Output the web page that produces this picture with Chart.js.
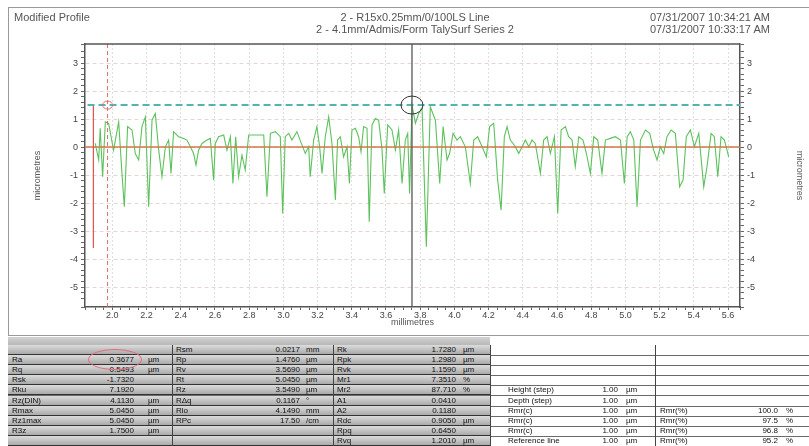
<!DOCTYPE html>
<html>
<head>
<meta charset="utf-8">
<script src="https://cdn.jsdelivr.net/npm/chart.js@4.4.0/dist/chart.umd.min.js"></script>
<style>
  body { margin: 0; background: #fff; font-family: "Liberation Sans", Arial, sans-serif; }
  #wrap { position: relative; width: 809px; height: 446px; overflow: hidden; }
  #chartBox { position: absolute; left: 0; top: 0; width: 809px; height: 336px; }
  #frame { position: absolute; left: 8px; top: 7px; width: 830px; height: 329px; border: 1px solid #9a9a9a; box-sizing: border-box; }
  .hdr { position: absolute; font-size: 11px; color: #555; white-space: nowrap; }
  #table { position: absolute; left: 8px; top: 337px; width: 801px; height: 109px; background: #fff; }
  .strip { position: absolute; left: 0; top: 0; width: 482px; height: 8px; background: linear-gradient(#d2d2d2, #b8b8b8); border-bottom: 1px solid #555; }
  .row { position: absolute; left: 0; width: 801px; height: 10px; border-bottom: 1px solid #6a6a6a; }
  .gray { position: absolute; left: 0; top: 0; width: 482px; height: 100%; background: linear-gradient(#dcdcdc, #aaaaaa); border-bottom: 1px solid #333; box-sizing: border-box; }
  .cell { position: absolute; top: 0; font-size: 8px; line-height: 10px; color: #111; white-space: nowrap; }
  .vsep { position: absolute; top: 8px; width: 1px; height: 101px; background: #444; }
  #ring { position: absolute; left: 88px; top: 349px; width: 54px; height: 21px; border: 1px solid #e07080; border-radius: 50%; box-sizing: border-box; }
</style>
</head>
<body>
<div id="wrap">
  <div id="chartBox"><canvas id="profile-chart"></canvas></div>
  <div id="frame"></div>
  <div class="hdr" style="left:14px;top:11px;">Modified Profile</div>
  <div class="hdr" style="left:0;width:830px;text-align:center;top:11px;">2 - R15x0.25mm/0/100LS Line</div>
  <div class="hdr" style="left:0;width:830px;text-align:center;top:23px;">2 - 4.1mm/Admis/Form TalySurf Series 2</div>
  <div class="hdr" style="left:650px;top:11px;">07/31/2007 10:34:21 AM</div>
  <div class="hdr" style="left:650px;top:23px;">07/31/2007 10:33:17 AM</div>
  <div id="table"></div>
  <div id="ring"></div>
</div>
<script>
// profile (mm / micrometres)
const profileX = [
  1.900, 1.920, 1.929, 1.943, 1.959, 1.978, 2.007, 2.037, 2.056, 2.070,
  2.089, 2.115, 2.134, 2.154, 2.173, 2.193, 2.212, 2.232, 2.251, 2.271,
  2.290, 2.310, 2.329, 2.343, 2.358, 2.387, 2.417, 2.436, 2.456, 2.475,
  2.489, 2.504, 2.524, 2.553, 2.573, 2.592, 2.602, 2.621, 2.651, 2.670,
  2.690, 2.705, 2.721, 2.738, 2.758, 2.777, 2.797, 2.826, 2.855, 2.885,
  2.904, 2.924, 2.953, 2.982, 2.996, 3.011, 3.031, 3.050, 3.079, 3.109,
  3.128, 3.148, 3.157, 3.177, 3.196, 3.212, 3.226, 3.245, 3.265, 3.284,
  3.304, 3.317, 3.333, 3.352, 3.372, 3.386, 3.401, 3.421, 3.440, 3.454,
  3.469, 3.489, 3.502, 3.518, 3.538, 3.557, 3.577, 3.590, 3.610, 3.635,
  3.655, 3.674, 3.694, 3.713, 3.727, 3.738, 3.752,
  3.772, 3.791, 3.811, 3.836, 3.859, 3.889, 3.914, 3.934, 3.957, 3.972,
  3.992, 4.015, 4.035, 4.064, 4.093, 4.113, 4.136, 4.162, 4.187, 4.206,
  4.230, 4.253, 4.273, 4.292, 4.308, 4.327, 4.357, 4.376, 4.396, 4.415,
  4.435, 4.454, 4.473, 4.503, 4.522, 4.542, 4.561, 4.585, 4.604, 4.624,
  4.649, 4.668, 4.688, 4.707, 4.727, 4.752, 4.772, 4.795, 4.815, 4.838,
  4.863, 4.883, 4.912, 4.941, 4.971, 4.994, 5.010, 5.029, 5.049, 5.068,
  5.088, 5.117, 5.142, 5.165, 5.185, 5.204, 5.224, 5.243, 5.267, 5.292,
  5.317, 5.337, 5.356, 5.380, 5.403, 5.429, 5.458, 5.477, 5.501, 5.520,
  5.540, 5.559, 5.579, 5.604
];
const profileY = [
  0.13, -0.46, 0.67, -1.06, 0.90, 0.85, -0.11, 0.90, -0.94, -2.13,
  0.73, 0.61, -0.23, -0.46, 0.73, 1.08, -2.13, 0.96, 1.20, -0.11,
  -1.06, 0.01, 0.25, -0.94, 0.55, 0.37, 0.31, 0.25, 0.01, -0.23,
  -0.64, -0.11, 0.13, 0.25, 0.31, -1.18, 0.13, 0.37, 0.43, -0.11,
  0.37, -1.30, 0.37, -1.06, -0.29, -0.82, 0.43, 0.43, 0.43, 0.43,
  -1.77, 0.49, 0.55, 0.37, -2.37, 0.37, 0.49, 0.25, 0.55, 0.07,
  -0.23, 0.01, -1.06, 0.25, 0.73, 0.01, -0.94, 0.37, 1.08, 0.13,
  -1.89, 0.25, 0.37, -0.35, 0.01, -1.30, 0.61, 0.67, 0.37, -0.17,
  0.73, 0.67, -2.67, 0.79, 1.02, 0.96, -0.11, -1.66, 0.79, 0.61,
  -0.11, 0.61, -1.30, 0.25, 0.49, -1.66, 1.50,
  0.85, 1.20, 1.40, -3.56, 1.44, 0.96, -1.30, 0.73, -0.46, -0.23,
  0.49, 0.25, 0.37, 0.01, -1.30, 0.25, 0.37, 0.01, -0.35, 0.73,
  0.85, -1.18, -2.25, 0.37, 0.73, 0.25, 0.01, -0.23, 0.01, 0.25,
  0.01, 0.25, 0.13, -0.94, 0.25, 0.37, -0.23, 0.37, -2.37, 0.61,
  0.73, 0.37, 0.25, -0.70, 0.37, 0.25, -0.23, -0.94, 0.37, 0.25,
  -0.94, 0.25, 0.31, 0.37, 0.25, -1.30, 0.37, 0.55, 0.25, -2.13,
  0.25, 0.61, 0.49, -0.11, -0.46, 0.01, -0.23, 0.37, 0.61, 0.49,
  -1.42, -1.18, 0.37, 0.61, 0.01, 0.49, -1.42, -0.70, 0.49, 0.37,
  -1.06, 0.37, 0.25, -0.35
];

// axis ranges
const xMin = 1.84, xMax = 5.67;
const yMin = -5.71, yMax = 3.68;

// reference lines
const meanLevel = 0;
const peakLevel = 1.5;          // cyan dashed line
const cursorX = 3.752;          // black cursor line
const cutoffX = 1.972;          // red dashed line
const startX = 1.889;           // red solid line
const startRange = [1.5, -3.6];
const peakMark = [3.752, 1.5];
const startMark = [1.972, 1.5];

// results table (left to right: name, value, unit ...)
const tableRows = [
  ['', '', '', 'Rsm', '0.0217', 'mm', 'Rk', '1.7280', 'µm'],
  ['Ra', '0.3677', 'µm', 'Rp', '1.4760', 'µm', 'Rpk', '1.2980', 'µm'],
  ['Rq', '0.5493', 'µm', 'Rv', '3.5690', 'µm', 'Rvk', '1.1590', 'µm'],
  ['Rsk', '-1.7320', '', 'Rt', '5.0450', 'µm', 'Mr1', '7.3510', '%'],
  ['Rku', '7.1920', '', 'Rz', '3.5490', 'µm', 'Mr2', '87.710', '%', 'Height (step)', '1.00', 'µm'],
  ['Rz(DIN)', '4.1130', 'µm', 'RΔq', '0.1167', '°', 'A1', '0.0410', '', 'Depth (step)', '1.00', 'µm'],
  ['Rmax', '5.0450', 'µm', 'Rlo', '4.1490', 'mm', 'A2', '0.1180', '', 'Rmr(c)', '1.00', 'µm', 'Rmr(%)', '100.0', '%'],
  ['Rz1max', '5.0450', 'µm', 'RPc', '17.50', '/cm', 'Rdc', '0.9050', 'µm', 'Rmr(c)', '1.00', 'µm', 'Rmr(%)', '97.5', '%'],
  ['R3z', '1.7500', 'µm', '', '', '', 'Rpq', '0.6450', '', 'Rmr(c)', '1.00', 'µm', 'Rmr(%)', '96.8', '%'],
  ['', '', '', '', '', '', 'Rvq', '1.2010', 'µm', 'Reference line', '1.00', 'µm', 'Rmr(%)', '95.2', '%']
];
const tableCols = [
  [4, 'l'], [126, 'r'], [140, 'l'], [168, 'l'], [292, 'r'], [298, 'l'],
  [329, 'l'], [448, 'r'], [455, 'l'], [500, 'l'], [610, 'r'], [618, 'l'],
  [652, 'l'], [770, 'r'], [778, 'l']
];

// build the table
const table = document.getElementById('table');
table.innerHTML = '<div class="strip"></div>';
tableRows.forEach((r, i) => {
  let html = '<div class="gray"></div>';
  r.forEach((t, j) => {
    if (!t) return;
    const [cx, al] = tableCols[j];
    const pos = al === 'r' ? 'right:' + (801 - cx) + 'px' : 'left:' + cx + 'px';
    html += '<span class="cell" style="' + pos + '">' + t + '</span>';
  });
  const row = document.createElement('div');
  row.className = 'row';
  row.style.top = (8 + i * 10.1) + 'px';
  row.innerHTML = html;
  table.appendChild(row);
});
[164, 325, 482, 647].forEach(v => {
  const d = document.createElement('div');
  d.className = 'vsep';
  d.style.left = v + 'px';
  table.appendChild(d);
});

const isMajorX = v => Math.abs(v * 5 - Math.round(v * 5)) < 1e-6;
const isMajorY = v => Math.abs(v - Math.round(v)) < 1e-6;

const marksPlugin = {
  id: 'marks',
  afterDatasetsDraw(chart) {
    const { ctx, chartArea: a, scales: { x, y } } = chart;
    ctx.save();
    ctx.strokeStyle = '#555';
    ctx.lineWidth = 1.5;
    ctx.beginPath();
    ctx.moveTo(a.left, a.top);
    ctx.lineTo(a.right, a.top);
    ctx.stroke();
    ctx.lineWidth = 1;
    ctx.strokeStyle = '#333';
    ctx.beginPath();
    ctx.ellipse(x.getPixelForValue(peakMark[0]), y.getPixelForValue(peakMark[1]), 11, 9, 0, 0, Math.PI * 2);
    ctx.stroke();
    ctx.strokeStyle = '#e07070';
    ctx.beginPath();
    ctx.ellipse(x.getPixelForValue(startMark[0]), y.getPixelForValue(startMark[1]), 5, 4, 0, 0, Math.PI * 2);
    ctx.stroke();
    ctx.restore();
  }
};

Chart.defaults.font.family = '"Liberation Sans", Arial, sans-serif';

const line = (pts, color, width, dash) => ({
  data: pts, borderColor: color, borderWidth: width, borderDash: dash || [],
  pointRadius: 0, fill: false, tension: 0
});

const config = {
  type: 'line',
  data: {
    datasets: [
      line([{ x: cursorX, y: yMin }, { x: cursorX, y: yMax }], '#555', 1.3),
      line([{ x: 1.855, y: peakLevel }, { x: xMax, y: peakLevel }], '#52b3b3', 2, [7, 4]),
      line([{ x: cutoffX, y: yMin }, { x: cutoffX, y: yMax }], '#e06a6a', 1, [4, 3]),
      line([{ x: startX, y: startRange[0] }, { x: startX, y: startRange[1] }], '#e05050', 1.2),
      line([{ x: xMin, y: meanLevel }, { x: xMax, y: meanLevel }], '#d0784a', 1.4),
      line(profileX.map((v, i) => ({ x: v, y: profileY[i] })), '#5cc25c', 1.1)
    ]
  },
  options: {
    responsive: true,
    maintainAspectRatio: false,
    animation: false,
    layout: { padding: { top: 44, left: 28, right: 0, bottom: 0 } },
    plugins: { legend: { display: false }, tooltip: { enabled: false } },
    scales: {
      x: {
        type: 'linear', min: xMin, max: xMax,
        afterFit: s => { s.height = 29; },
        ticks: {
          stepSize: 0.05, autoSkip: false, maxRotation: 0, padding: 0,
          font: { size: 9 }, color: '#444',
          callback: v => isMajorX(v) ? (Math.round(v * 5) / 5).toFixed(1) : ''
        },
        grid: {
          color: c => c.tick && isMajorX(c.tick.value) ? '#dedede' : 'rgba(0,0,0,0)',
          tickColor: '#666', tickLength: 3
        },
        border: { color: '#555', width: 1.5, dash: [2, 2] },
        title: { display: true, text: 'millimetres', font: { size: 9 }, color: '#555', padding: { top: 0, bottom: 8 } }
      },
      y: {
        type: 'linear', min: yMin, max: yMax, position: 'left',
        afterFit: s => { s.width = 57; },
        ticks: {
          stepSize: 0.2, autoSkip: false, font: { size: 9 }, color: '#444',
          callback: v => isMajorY(v) ? String(Math.round(v)) : ''
        },
        grid: {
          color: c => c.tick && isMajorY(c.tick.value) ? '#e8d4d4' : 'rgba(0,0,0,0)',
          tickColor: '#666', tickLength: 4
        },
        border: { color: '#555', width: 1.5, dash: [4, 3] },
        title: { display: true, text: 'micrometres', font: { size: 9 }, color: '#555' }
      },
      y2: {
        type: 'linear', min: yMin, max: yMax, position: 'right',
        afterFit: s => { s.width = 69; },
        ticks: {
          stepSize: 0.2, autoSkip: false, font: { size: 9 }, color: '#444',
          callback: v => isMajorY(v) ? String(Math.round(v)) : ''
        },
        grid: { drawOnChartArea: false, tickColor: '#666', tickLength: 4 },
        border: { color: '#555', width: 1.5 },
        title: { display: true, text: 'micrometres', font: { size: 9 }, color: '#555' }
      }
    }
  },
  plugins: [marksPlugin]
};

window.onload = function () {
  const ctx = document.getElementById('profile-chart').getContext('2d');
  new Chart(ctx, config);
};
</script>
</body>
</html>
